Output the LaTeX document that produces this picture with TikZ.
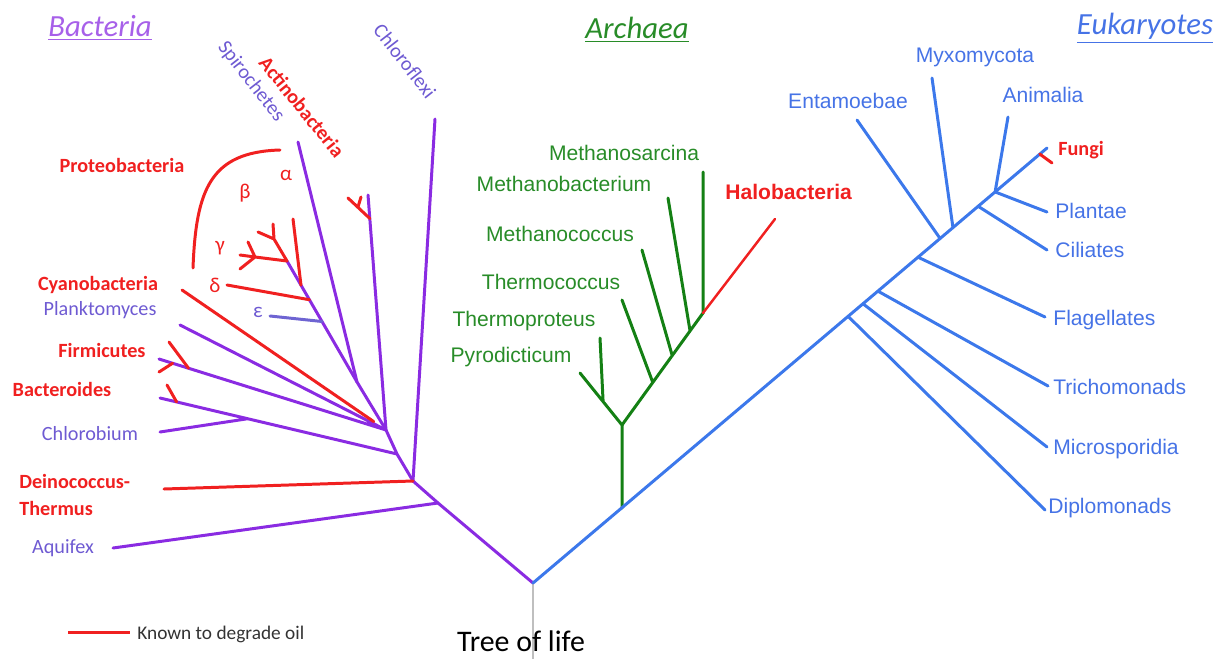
\documentclass[tikz,border=0pt]{standalone}
\usepackage{fontspec}
\setmainfont{Carlito}
\newfontfamily\arialfont{Liberation Sans}
\usetikzlibrary{calc}
\definecolor{bactline}{RGB}{138,43,226}
\definecolor{bacttext}{RGB}{110,90,210}
\definecolor{oilred}{RGB}{240,32,32}
\definecolor{archline}{RGB}{20,128,20}
\definecolor{archtext}{RGB}{40,140,40}
\definecolor{eukline}{RGB}{60,120,235}
\definecolor{euktext}{RGB}{70,115,230}
\definecolor{epsline}{RGB}{110,100,210}
\tikzset{
  bact/.style={draw=bactline,line width=1.7pt,line cap=round},
  oil/.style={draw=oilred,line width=1.7pt,line cap=round},
  arch/.style={draw=archline,line width=1.7pt,line cap=round},
  euk/.style={draw=eukline,line width=1.7pt,line cap=round},
  blab/.style={text=bacttext,font=\fontsize{11.5}{13}\selectfont,inner sep=0pt},
  rlab/.style={text=oilred,font=\fontsize{11.5}{13}\selectfont\bfseries,inner sep=0pt},
  alab/.style={text=archtext,font=\arialfont\fontsize{12}{14}\selectfont,inner sep=0pt},
  elab/.style={text=euktext,font=\arialfont\fontsize{12}{14}\selectfont,inner sep=0pt},
  head/.style={font=\fontsize{17.5}{20}\selectfont\itshape,inner sep=0pt},
}
\begin{document}
\begin{tikzpicture}[x=0.02cm,y=-0.02cm]
\useasboundingbox (0,0) rectangle (1222,659);
\path (533,583) coordinate (R) (533,659) coordinate (Rb)
  (438,503) coordinate (B0) (413,481) coordinate (B1)
  (397,454) coordinate (B2) (386,430) coordinate (B3)
  (357,382) coordinate (J1) (287,261) coordinate (P4)
  (113,548) coordinate (aq) (164,489) coordinate (de)
  (435,119) coordinate (chf) (160,398) coordinate (bc)
  (160,432) coordinate (cb) (159,359) coordinate (fi)
  (180,325) coordinate (pl) (182,290) coordinate (cy)
  (298,142) coordinate (sp) (368,195) coordinate (ac)
  (293,219) coordinate (al) (227,285) coordinate (dl) (270,316) coordinate (ep)
  (274,239) coordinate (Yu) (255,257) coordinate (Yl);
\path (622,508) coordinate (A0) (622,425) coordinate (A1) (703,313) coordinate (A2)
  (580,373) coordinate (py) (600,338) coordinate (tp) (622,300) coordinate (tc)
  (642,250) coordinate (mc) (668,198) coordinate (mb) (703,172) coordinate (ms)
  (775,219) coordinate (hb);
\path (1047,148) coordinate (fu) (1045,510) coordinate (dip) (1047,447) coordinate (mic)
  (1048,386) coordinate (tri) (1045,317) coordinate (fla) (857,120) coordinate (ent)
  (932,78) coordinate (myx) (1047,250) coordinate (cil) (1047,212) coordinate (pla)
  (1008,117) coordinate (ani);
% stem
\draw[gray!50,line width=1.3pt] (R)--(Rb);
% bacteria
\draw[bact] (R)--(B0)--(B1)--(B2)--(B3)--(J1)--(sp);
\draw[bact] (B0)--(aq) (B1)--(chf) (B2)--(bc) ($(bc)!0.37!(B2)$)--(cb)
  (B3)--(fi) (B3)--(pl) (B3)--(ac) (J1)--(P4);
\draw[oil] (B1)--(de) ($(cy)!0.94!(B3)$)--(cy);
\draw[oil] ($(bc)!0.07!(B2)$)--(167,385);
\draw[oil] ($(fi)!0.13!(B3)$)--(169,342) ($(fi)!0.06!(B3)$)--(159,372);
\draw[oil] ($(ac)!0.1!(B3)$)--(348,198) (358,207)--(361,197);
\draw[oil] ($(J1)!0.8!(P4)$)--(al) ($(J1)!0.68!(P4)$)--(dl);
\draw[draw=epsline,line width=1.7pt,line cap=round] ($(J1)!0.5!(P4)$)--(ep);
\draw[oil] (P4)--(Yu)--(258,232) (Yu)--(273,224);
\draw[oil] (P4)--(Yl)--(248,242) (Yl)--(240,255) (Yl)--(240,269);
\draw[oil] (193,268) .. controls (196,190) and (210,152) .. (280,150);
% archaea
\draw[arch] (A0)--(A1)--(py) ($(A1)!0.45!(py)$)--(tp);
\draw[arch] (A1)--(A2)--(ms) ($(A1)!0.38!(A2)$)--(tc) ($(A1)!0.62!(A2)$)--(mc)
  ($(A1)!0.84!(A2)$)--(mb);
\draw[oil,line width=1.4pt] (A2)--(hb);
% eukaryotes
\draw[euk] (R)--(fu);
\draw[euk] ($(R)!0.613!(fu)$)--(dip) ($(R)!0.642!(fu)$)--(mic) ($(R)!0.671!(fu)$)--(tri)
  ($(R)!0.749!(fu)$)--(fla) ($(R)!0.792!(fu)$)--(ent) ($(R)!0.817!(fu)$)--(myx)
  ($(R)!0.866!(fu)$)--(cil) ($(R)!0.899!(fu)$)--(pla) ($(R)!0.899!(fu)$)--(ani);
\draw[oil] ($(R)!0.986!(fu)$)--(1052,163);
% labels
\node[head,text=bactline!75] (hbact) at (100,28) {\underline{Bacteria}};
\node[head,text=archtext] (harch) at (637,30) {\underline{Archaea}};
\node[head,text=euktext] (heuk) at (1145,28) {\underline{Eukaryotes}};
\node[blab,rotate=-52] (lsp) at (251,82) {Spirochetes};
\node[rlab,rotate=-51] (lac) at (302,107) {Actinobacteria};
\node[blab,rotate=-52] (lchf) at (405,61) {Chloroflexi};
\node[rlab] (lpr) at (122,165) {Proteobacteria};
\node[rlab] (lcy) at (98,285) {Cyanobacteria};
\node[blab] (lpl) at (100,310) {Planktomyces};
\node[rlab] (lfi) at (102,350) {Firmicutes};
\node[rlab] (lbc) at (62,389) {Bacteroides};
\node[blab] (lcb) at (90,434) {Chlorobium};
\node[rlab,anchor=west] (lde) at (19,481) {Deinococcus-};
\node[rlab,anchor=west] (lth) at (19,508) {Thermus};
\node[blab] (laq) at (63,548) {Aquifex};
\path[text=oilred,font=\fontsize{12}{14}\selectfont]
  (286,175) node (lal) {α} (245,193) node (lbe) {β} (220,248) node (lga) {γ}
  (215,285) node (ldl) {δ};
\node[text=bacttext,font=\fontsize{12}{14}\selectfont] (lep) at (258,312) {ε};
\node[alab] (lms) at (624,153) {Methanosarcina};
\node[alab] (lmb) at (564,184) {Methanobacterium};
\node[alab] (lmc) at (560,234) {Methanococcus};
\node[alab] (ltc) at (551,282) {Thermococcus};
\node[alab] (ltp) at (524,321) {Thermoproteus};
\node[alab] (lpy) at (511,357) {Pyrodicticum};
\node[alab,text=oilred,font=\arialfont\fontsize{12}{14}\selectfont\bfseries,anchor=west] (lhb) at (725,192) {Halobacteria};
\node[elab] (lmyx) at (975,57) {Myxomycota};
\node[elab] (lent) at (848,101) {Entamoebae};
\node[elab] (lani) at (1043,95) {Animalia};
\node[rlab,anchor=west] (lfu) at (1058,150) {Fungi};
\node[elab,anchor=west] (lpla) at (1055,211) {Plantae};
\node[elab,anchor=west] (lcil) at (1055,250) {Ciliates};
\node[elab,anchor=west] (lfla) at (1053,320) {Flagellates};
\node[elab,anchor=west] (ltri) at (1053,387) {Trichomonads};
\node[elab,anchor=west] (lmic) at (1053,449) {Microsporidia};
\node[elab,anchor=west] (ldip) at (1048,508) {Diplomonads};
% legend
\coordinate (k1) at (68,632); \coordinate (k2) at (130,632);
\draw[oil,line cap=butt] (k1)--(k2);
\node[anchor=west,text=black!80,font=\fontsize{11}{13}\selectfont,inner sep=0pt] (lkey) at (137,634) {Known to degrade oil};
\node[font=\fontsize{17}{20}\selectfont,inner sep=0pt] (ltree) at (521,641) {Tree of life};
\end{tikzpicture}
\end{document}
